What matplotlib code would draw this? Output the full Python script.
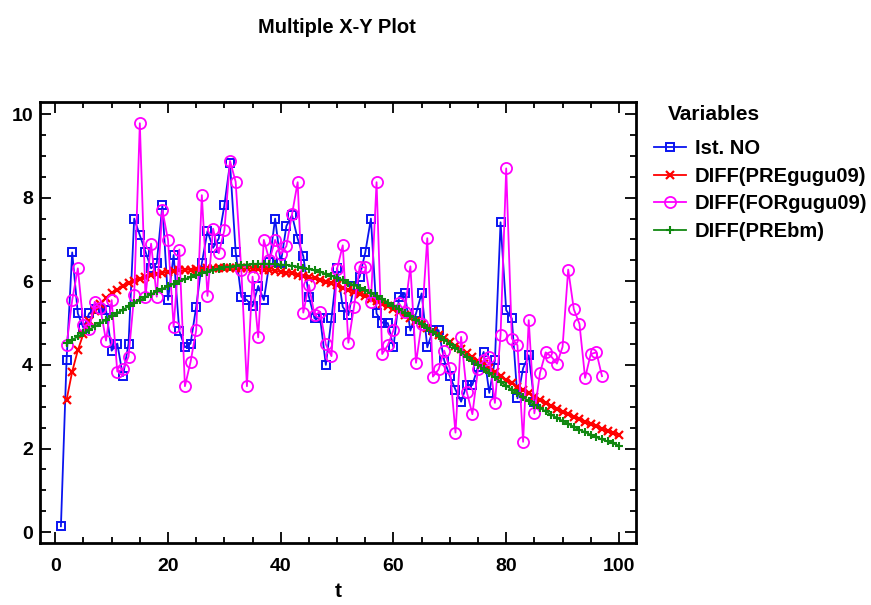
import matplotlib
matplotlib.use("Agg")
import matplotlib.pyplot as plt
from matplotlib.ticker import MultipleLocator

plt.rcParams['font.family'] = ['Liberation Sans Narrow', 'Liberation Sans', 'DejaVu Sans']

# Ist. NO, t = 1..85
t_ist = list(range(1, 86))
ist_no = [0.14, 4.11, 6.69, 5.23, 4.88, 5.23, 5.33, 5.33, 5.32, 4.34,
          4.51, 3.73, 4.51, 7.5, 7.1, 6.71, 6.31, 6.43, 7.82, 5.55,
          6.63, 4.81, 4.42, 4.51, 5.39, 6.43, 7.2, 6.8, 7.02, 7.82,
          8.82, 6.71, 5.63, 5.55, 5.4, 5.89, 5.55, 6.45, 7.5, 6.43,
          7.32, 7.58, 7.02, 6.6, 5.63, 5.11, 5.11, 4.0, 5.11, 6.31,
          5.39, 5.19, 5.89, 6.11, 6.69, 7.5, 5.23, 5.01, 5.0, 4.42,
          5.63, 5.72, 4.82, 5.23, 5.71, 4.42, 4.83, 4.83, 4.11, 3.73,
          3.41, 3.12, 3.52, 3.52, 3.96, 4.31, 3.33, 4.11, 7.41, 5.31,
          5.11, 3.2, 3.92, 4.23, 3.12]

# DIFF(PREgugu09), t = 2..100
t_pre = list(range(2, 101))
pre_gugu = [3.16, 3.84, 4.35, 4.75, 5.05, 5.28, 5.46, 5.6, 5.71,
            5.8, 5.88, 5.95, 6.01, 6.06, 6.1, 6.14, 6.17, 6.2, 6.22,
            6.24, 6.26, 6.27, 6.28, 6.29, 6.3, 6.31, 6.31, 6.32, 6.32,
            6.32, 6.32, 6.31, 6.31, 6.3, 6.29, 6.28, 6.27, 6.25, 6.23,
            6.21, 6.19, 6.16, 6.13, 6.1, 6.07, 6.03, 5.99, 5.95, 5.9,
            5.85, 5.8, 5.75, 5.69, 5.64, 5.58, 5.52, 5.46, 5.4, 5.34,
            5.27, 5.2, 5.13, 5.05, 4.97, 4.89, 4.81, 4.72, 4.64, 4.55,
            4.46, 4.37, 4.28, 4.19, 4.1, 4.01, 3.92, 3.83, 3.73, 3.64,
            3.56, 3.48, 3.4, 3.32, 3.24, 3.17, 3.1, 3.02, 2.95, 2.88,
            2.82, 2.76, 2.7, 2.64, 2.58, 2.53, 2.47, 2.42, 2.37, 2.32]

# DIFF(FORgugu09), t = 2..97
t_for = list(range(2, 98))
for_gugu = [4.47, 5.55, 6.31, 4.95, 4.85, 5.51, 5.35, 4.58, 5.55,
            3.84, 3.89, 4.2, 5.67, 9.78, 5.63, 6.9, 5.63, 7.7, 6.99,
            4.91, 6.76, 3.49, 4.07, 4.83, 8.06, 5.65, 7.26, 6.67, 7.22,
            8.88, 8.38, 6.28, 3.49, 6.11, 4.66, 6.99, 6.5, 6.99, 6.65,
            6.84, 7.6, 8.37, 5.25, 5.91, 5.19, 5.27, 4.49, 4.21, 6.3,
            6.86, 4.53, 5.39, 6.35, 6.33, 5.51, 8.37, 4.26, 4.47, 4.83,
            5.47, 5.27, 6.36, 4.05, 4.99, 7.03, 3.72, 3.89, 4.34, 3.92,
            2.38, 4.67, 3.36, 2.82, 3.9, 4.11, 4.18, 3.09, 4.71, 8.7,
            4.63, 4.47, 2.16, 5.07, 2.84, 3.81, 4.3, 4.2, 4.03, 4.43,
            6.28, 5.33, 4.98, 3.69, 4.26, 4.3, 3.73]

# DIFF(PREbm), t = 2..100
t_bm = list(range(2, 101))
pre_bm = [4.52, 4.6, 4.68, 4.76, 4.84, 4.92, 5.0, 5.08, 5.16,
          5.24, 5.32, 5.4, 5.48, 5.55, 5.62, 5.69, 5.76, 5.82, 5.88,
          5.94, 6.0, 6.05, 6.1, 6.15, 6.19, 6.23, 6.27, 6.3, 6.33,
          6.35, 6.37, 6.39, 6.4, 6.41, 6.42, 6.42, 6.42, 6.41, 6.4,
          6.39, 6.37, 6.35, 6.32, 6.29, 6.26, 6.22, 6.18, 6.13, 6.08,
          6.03, 5.97, 5.91, 5.85, 5.78, 5.71, 5.64, 5.57, 5.49, 5.41,
          5.33, 5.25, 5.17, 5.08, 4.98, 4.88, 4.79, 4.69, 4.6, 4.5,
          4.4, 4.3, 4.2, 4.1, 4.0, 3.9, 3.8, 3.7, 3.6, 3.5,
          3.41, 3.32, 3.23, 3.14, 3.05, 2.97, 2.89, 2.81, 2.73, 2.66,
          2.59, 2.52, 2.45, 2.39, 2.33, 2.27, 2.22, 2.17, 2.12, 2.07]

labels = ['Ist. NO', 'DIFF(PREgugu09)', 'DIFF(FORgugu09)', 'DIFF(PREbm)']

fig = plt.figure(figsize=(8.71, 6.05), dpi=100)
ax = fig.add_axes([0.046, 0.1025, 0.684, 0.729])

ax.plot(t_ist, ist_no, color='#0a14f0', lw=1.3, marker='s', ms=6,
        mfc='none', mew=1.4, label=labels[0])
ax.plot(t_pre, pre_gugu, color='#ff0000', lw=1.3, marker='x', ms=5.5,
        mew=1.6, label=labels[1])
ax.plot(t_for, for_gugu, color='#ff00ff', lw=1.3, marker='o', ms=8,
        mfc='none', mew=1.3, label=labels[2])
ax.plot(t_bm, pre_bm, color='#118811', lw=1.3, marker='+', ms=6,
        mew=1.5, label=labels[3])

ax.set_xlim(-2.7, 103)
ax.set_ylim(-0.26, 10.29)
ax.xaxis.set_major_locator(MultipleLocator(20))
ax.xaxis.set_minor_locator(MultipleLocator(5))
ax.yaxis.set_major_locator(MultipleLocator(2))
ax.yaxis.set_minor_locator(MultipleLocator(0.5))
ax.tick_params(which='both', direction='in', top=True, right=True,
               width=1.3, labelsize=14)
ax.tick_params(which='major', length=8)
ax.tick_params(which='minor', length=4)
ax.tick_params(axis='x', pad=11)
ax.tick_params(axis='y', pad=5)
for lab in ax.get_xticklabels() + ax.get_yticklabels():
    lab.set_fontweight('bold')
for sp in ax.spines.values():
    sp.set_linewidth(2)

ax.set_xlabel('t', fontsize=15, fontweight='bold', labelpad=5)
fig.text(0.387, 0.955, 'Multiple X-Y Plot', ha='center', va='center',
         fontsize=14.5, fontweight='bold')

fig.text(0.767, 0.801, 'Variables', fontsize=15, fontweight='bold')
fig.legend(loc='upper left', bbox_to_anchor=(0.742, 0.783), frameon=False,
           prop={'weight': 'bold', 'size': 14.5}, handlelength=1.55,
           handletextpad=0.45, labelspacing=0.42, borderaxespad=0)

fig.savefig('out.png', dpi=100)
